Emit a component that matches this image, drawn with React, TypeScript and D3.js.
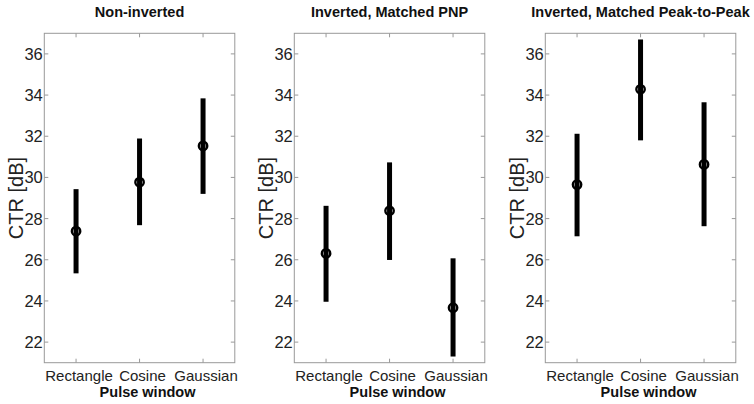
import React from 'react';
import * as d3 from 'd3';

const categories = ['Rectangle', 'Cosine', 'Gaussian'];
const titles = ['Non-inverted', 'Inverted, Matched PNP', 'Inverted, Matched Peak-to-Peak'];
const yTicks = [22, 24, 26, 28, 30, 32, 34, 36];

// mean, lower, upper per panel
const meanNonInv = [27.39, 29.77, 31.53];
const lowNonInv = [25.34, 27.68, 29.2];
const highNonInv = [29.43, 31.89, 33.84];

const meanPNP = [26.31, 28.38, 23.67];
const lowPNP = [23.96, 25.99, 21.3];
const highPNP = [28.62, 30.73, 26.07];

const meanP2P = [29.65, 34.28, 30.63];
const lowP2P = [27.14, 31.8, 27.63];
const highP2P = [32.12, 36.7, 33.65];

const panels = [
  { mean: meanNonInv, low: lowNonInv, high: highNonInv },
  { mean: meanPNP, low: lowPNP, high: highPNP },
  { mean: meanP2P, low: lowP2P, high: highP2P },
];

const W = 754, H = 404;
const axLeft = [44.3, 294.3, 545.3];
const axWidth = 190.5;
const top = 33.3, bottom = 362.7;
const font = 'Arial, "Liberation Sans", sans-serif';

const Panel = ({ i }: { i: number }) => {
  const p = panels[i];
  const x0 = axLeft[i];
  const x = d3.scaleLinear().domain([0.5, 3.5]).range([x0, x0 + axWidth]);
  const y = d3.scaleLinear().domain([21, 37]).range([bottom, top]);
  const x1 = x0 + axWidth;
  const tl = 4;
  const cx = (x0 + x1) / 2;
  return (
    <g>
      <text x={cx} y={17} textAnchor="middle" fontFamily={font} fontWeight="bold" fontSize={14.5} fill="#111">{titles[i]}</text>
      <rect x={x0} y={top} width={axWidth} height={bottom - top} fill="white" stroke="#999" strokeWidth={1} />
      {yTicks.map(t => (
        <g key={t}>
          <line x1={x0} x2={x0 + tl} y1={y(t)} y2={y(t)} stroke="#999" />
          <line x1={x1} x2={x1 - tl} y1={y(t)} y2={y(t)} stroke="#999" />
          <text x={x0 - 1.5} y={y(t)} dy="0.36em" textAnchor="end" fontFamily={font} fontSize={16.5} fill="#222">{t}</text>
        </g>
      ))}
      {categories.map((c, k) => (
        <g key={c}>
          <line x1={x(k + 1)} x2={x(k + 1)} y1={bottom} y2={bottom - tl} stroke="#999" />
          <line x1={x(k + 1)} x2={x(k + 1)} y1={top} y2={top + tl} stroke="#999" />
          <text x={x(k + 1) + 3} y={380.5} textAnchor="middle" fontFamily={font} fontSize={15} fill="#222">{c}</text>
        </g>
      ))}
      <text x={cx + 8} y={396.5} textAnchor="middle" fontFamily={font} fontWeight="bold" fontSize={14.5} fill="#111">Pulse window</text>
      <text transform={`translate(${x0 - 21},${(top + bottom) / 2}) rotate(-90)`} textAnchor="middle" fontFamily={font} fontSize={20} fill="#222">CTR [dB]</text>
      {p.mean.map((m, k) => (
        <g key={k}>
          <line x1={x(k + 1)} x2={x(k + 1)} y1={y(p.low[k])} y2={y(p.high[k])} stroke="#000" strokeWidth={5} />
          <circle cx={x(k + 1)} cy={y(m)} r={4.2} fill="none" stroke="#000" strokeWidth={2.4} />
        </g>
      ))}
    </g>
  );
};

export default function App() {
  return (
    <svg width={W} height={H} style={{ position: 'absolute', left: 0, top: 0, background: 'white' }}>
      <rect width={W} height={H} fill="white" />
      {[0, 1, 2].map(i => <Panel key={i} i={i} />)}
    </svg>
  );
}
